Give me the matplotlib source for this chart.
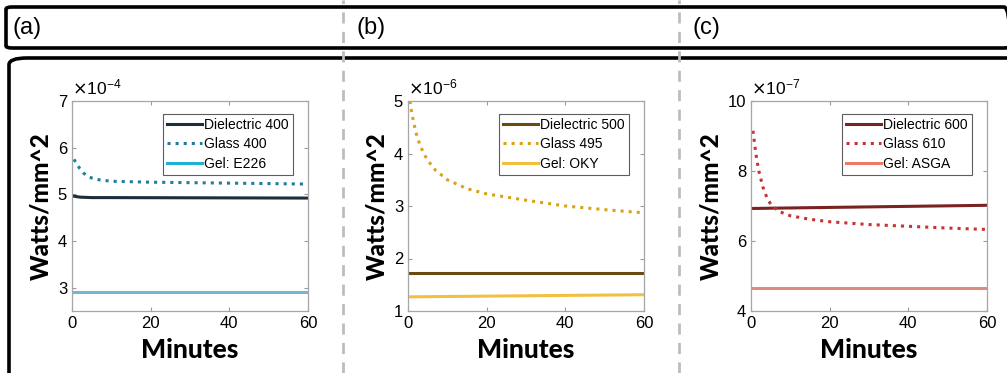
import numpy as np
import matplotlib
matplotlib.use('Agg')
import matplotlib.pyplot as plt
from matplotlib.patches import FancyBboxPatch
from matplotlib.lines import Line2D

plt.rcParams['font.family'] = ['Liberation Sans', 'DejaVu Sans']

# ---- data ----
t_flat = [0.5, 60]

# panel a (x1e-4)
t_a = [0.5, 1, 2, 3, 4, 5, 7, 10, 15, 20, 30, 40, 50, 60]
glass400 = [5.75, 5.68, 5.55, 5.45, 5.39, 5.35, 5.31, 5.28, 5.27, 5.26, 5.25, 5.24, 5.23, 5.22]
t_da = [0.5, 2, 5, 10, 60]
diel400 = [4.96, 4.94, 4.93, 4.93, 4.92]
gel_e226 = [2.9, 2.9]

# panel b (x1e-6)
t_b = [0.5, 1, 2, 3, 4, 5, 7, 10, 15, 20, 25, 30, 40, 50, 60]
glass495 = [5.0, 4.75, 4.4, 4.17, 4.0, 3.87, 3.68, 3.5, 3.33, 3.23, 3.17, 3.11, 3.0, 2.93, 2.87]
diel500 = [1.72, 1.72]
gel_oky = [1.27, 1.31]

# panel c (x1e-7)
t_c = [0.5, 1, 1.5, 2, 3, 4, 5, 7, 10, 15, 20, 30, 40, 50, 60]
glass610 = [9.15, 8.7, 8.3, 8.0, 7.55, 7.25, 7.05, 6.85, 6.72, 6.62, 6.55, 6.47, 6.42, 6.37, 6.33]
diel600 = [6.93, 7.02]
gel_asga = [4.66, 4.66]

panels = [
    dict(label='(a)', exp=-4, ylim=(2.5, 7), yticks=[3, 4, 5, 6, 7],
         series=[(t_da, diel400, '#1c2e3e', '-', '#1c2e3e', 'Dielectric 400'),
                 (t_a, glass400, '#1f7c9c', ':', '#1f7c9c', 'Glass 400'),
                 (t_flat, gel_e226, '#78b4d2', '-', '#1fb0d2', 'Gel: E226')]),
    dict(label='(b)', exp=-6, ylim=(1, 5), yticks=[1, 2, 3, 4, 5],
         series=[(t_flat, diel500, '#6b4a10', '-', '#6b4a10', 'Dielectric 500'),
                 (t_b, glass495, '#d9a21a', ':', '#d9a21a', 'Glass 495'),
                 (t_flat, gel_oky, '#f2c040', '-', '#f2c040', 'Gel: OKY')]),
    dict(label='(c)', exp=-7, ylim=(4, 10), yticks=[4, 6, 8, 10],
         series=[(t_flat, diel600, '#7a2222', '-', '#7a2222', 'Dielectric 600'),
                 (t_c, glass610, '#c83232', ':', '#c83232', 'Glass 610'),
                 (t_flat, gel_asga, '#e08a84', '-', '#f07a60', 'Gel: ASGA')]),
]

W, H = 1007, 373
fig = plt.figure(figsize=(W / 100, H / 100), dpi=100)

def fx(px):
    return px / W

def fy(py):
    return 1 - py / H

# frames
top = FancyBboxPatch((fx(6), fy(48)), fx(1010) - fx(6), fy(7) - fy(48),
                     boxstyle='round,pad=0,rounding_size=0.006', transform=fig.transFigure,
                     fill=False, ec='black', lw=2.6, clip_on=False)
fig.patches.append(top)
low = FancyBboxPatch((fx(9), fy(400)), fx(1030) - fx(9), fy(58) - fy(400),
                     boxstyle='round,pad=0,rounding_size=0.018', transform=fig.transFigure,
                     fill=False, ec='black', lw=2.6, clip_on=False)
fig.patches.append(low)
for xd in [343, 679]:
    fig.add_artist(Line2D([fx(xd), fx(xd)], [0, 1], transform=fig.transFigure,
                          color='#bdbdbd', lw=2, dashes=(4, 3)))

lefts = [72, 408, 751]
label_x = [12, 357, 692]
for p, left, lx in zip(panels, lefts, label_x):
    fig.text(fx(lx), fy(28), p['label'], fontsize=17, va='center', ha='left')
    ax = fig.add_axes([fx(left), fy(311), fx(236), fy(101) - fy(311)])
    for t, v, c, ls, lc, name in p['series']:
        ax.plot(t, v, color=c, ls=ls, lw=2.2)
    ax.set_xlim(0, 60)
    ax.set_ylim(*p['ylim'])
    ax.set_xticks([0, 20, 40, 60])
    ax.set_yticks(p['yticks'])
    ax.tick_params(direction='in', top=True, right=True, labelsize=12,
                   color='#9a9a9a', length=3, width=0.8)
    for s in ax.spines.values():
        s.set_color('#a6a6a6')
        s.set_linewidth(0.9)
    ax.text(0, 1.015, r'$\times\mathregular{10^{%d}}$' % p['exp'], transform=ax.transAxes,
            fontsize=12.5, ha='left', va='bottom')
    ax.set_xlabel('Minutes', fontsize=19, fontweight='black', family=['Lato', 'DejaVu Sans'],
                  labelpad=5)
    ax.set_ylabel('Watts/mm^2', fontsize=17.5, fontweight='black', family=['Lato', 'DejaVu Sans'],
                  labelpad=4)
    handles = [Line2D([], [], color=lc, ls=ls, lw=2.2) for t, v, c, ls, lc, name in p['series']]
    leg = ax.legend(handles, [s[5] for s in p['series']], loc='upper right',
                    bbox_to_anchor=(0.935, 0.94), fontsize=10, frameon=True, fancybox=False,
                    edgecolor='#333333', handlelength=2.5, handletextpad=0.15,
                    labelspacing=0.4, borderpad=0.3, borderaxespad=0)
    leg.get_frame().set_linewidth(0.8)

fig.savefig('out.png', dpi=100)
